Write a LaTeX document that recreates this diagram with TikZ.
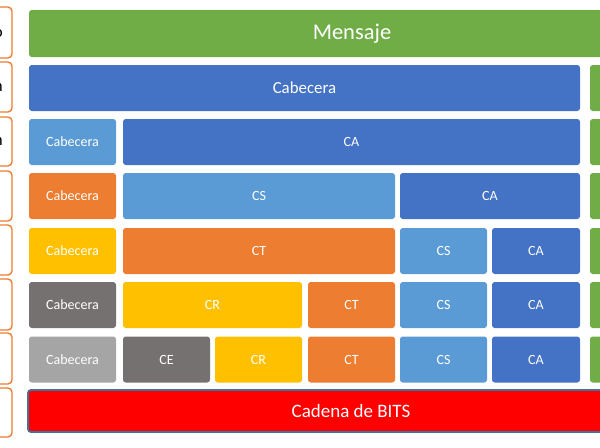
\documentclass[tikz,border=0pt]{standalone}
\usepackage{fontspec}
\setmainfont{Carlito}
\usetikzlibrary{positioning}
\definecolor{verde}{HTML}{70AD47}
\definecolor{azul}{HTML}{4472C4}
\definecolor{azulclaro}{HTML}{5B9BD5}
\definecolor{naranja}{HTML}{ED7D31}
\definecolor{amarillo}{HTML}{FFC000}
\definecolor{grisosc}{HTML}{767171}
\definecolor{grisclaro}{HTML}{A5A5A5}
\definecolor{rojo}{HTML}{FF0000}
\definecolor{borde}{HTML}{41719C}

\begin{document}
\begin{tikzpicture}[
  x=0.025cm,y=-0.025cm,
  blk/.style={rounded corners=2pt,inner sep=0pt,text=white,
    font=\fontsize{10}{12}\selectfont},
  sz/.style 2 args={minimum width=#1*0.025cm,minimum height=#2*0.025cm},
  capa/.style={draw=naranja,line width=1pt,rounded corners=3pt,fill=white,
    inner sep=0pt},
]
  \useasboundingbox (0,0) rectangle (600,448);

  % cajas de la izquierda (cortadas)
  \foreach \yc/\h [count=\i] in {32.5/51,87/50,141.5/49,196/50,250/50,
      304.5/51,358.5/51,412.5/49}
    \node[capa,sz={94}{\h}] (capa\i) at (-35,\yc) {};
  \node[anchor=east,inner sep=0pt,font=\fontsize{12}{14}\selectfont]
    (nom1) at (3,33) {o};
  \node[anchor=east,inner sep=0pt,font=\fontsize{12}{14}\selectfont]
    (nom2) at (3,87) {n};
  \node[anchor=east,inner sep=0pt,font=\fontsize{12}{14}\selectfont]
    (nom3) at (3,141) {n};

  % mensaje y cadena de bits
  \node[blk,fill=verde,sz={646}{47},font=\fontsize{16}{19}\selectfont]
    (mensaje) at (352,33.5) {Mensaje};
  \node[blk,fill=rojo,draw=borde,line width=1.2pt,sz={646}{42},
    font=\fontsize{13.5}{16}\selectfont] (bits) at (351,411) {Cadena de BITS};

  % fila 2
  \node[blk,fill=azul,sz={551}{46},font=\fontsize{12}{14}\selectfont]
    (cab2) at (304.5,88) {Cabecera};

  % cola verde a la derecha
  \foreach \yc [count=\i from 2] in {88,142,196,251,305,359.5}
    \node[blk,fill=verde,sz={87}{46}] (cola\i) at (633.5,\yc) {};

  % cabeceras
  \foreach \yc/\col [count=\i from 3] in {142/azulclaro,196/naranja,
      251/amarillo,305/grisosc,359.5/grisclaro}
    \node[blk,fill=\col,sz={87}{46}] (cab\i) at (72.5,\yc) {Cabecera};

  % fila 3
  \node[blk,fill=azul,sz={457}{46}] (ca3) at (351.5,142) {CA};
  % fila 4
  \node[blk,fill=azulclaro,sz={272}{46}] (cs4) at (259,196) {CS};
  \node[blk,fill=azul,sz={180}{46}] (ca4) at (490,196) {CA};
  % fila 5
  \node[blk,fill=naranja,sz={272}{46}] (ct5) at (259,251) {CT};
  \node[blk,fill=azulclaro,sz={87}{46}] (cs5) at (443.5,251) {CS};
  \node[blk,fill=azul,sz={88}{46}] (ca5) at (536,251) {CA};
  % fila 6
  \node[blk,fill=amarillo,sz={179}{46}] (cr6) at (212.5,305) {CR};
  \node[blk,fill=naranja,sz={87}{46}] (ct6) at (351.5,305) {CT};
  \node[blk,fill=azulclaro,sz={87}{46}] (cs6) at (443.5,305) {CS};
  \node[blk,fill=azul,sz={88}{46}] (ca6) at (536,305) {CA};
  % fila 7
  \node[blk,fill=grisosc,sz={87}{46}] (ce7) at (166.5,359.5) {CE};
  \node[blk,fill=amarillo,sz={87}{46}] (cr7) at (258.5,359.5) {CR};
  \node[blk,fill=naranja,sz={87}{46}] (ct7) at (351.5,359.5) {CT};
  \node[blk,fill=azulclaro,sz={87}{46}] (cs7) at (443.5,359.5) {CS};
  \node[blk,fill=azul,sz={88}{46}] (ca7) at (536,359.5) {CA};
\end{tikzpicture}
\end{document}
